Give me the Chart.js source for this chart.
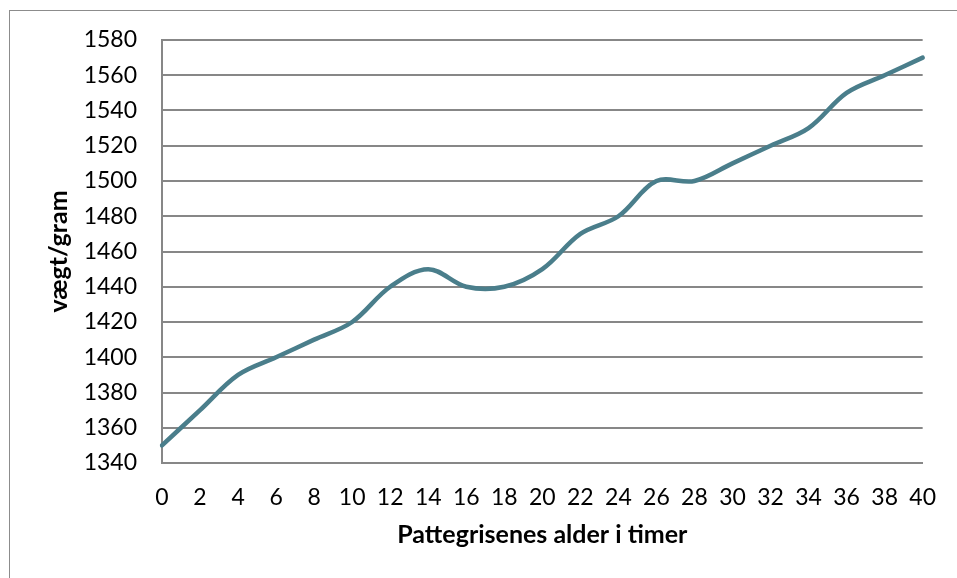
<!DOCTYPE html>
<html>
<head>
<meta charset="utf-8">
<script src="https://cdn.jsdelivr.net/npm/chart.js@4/dist/chart.umd.min.js"></script>
<style>
  html, body { margin: 0; padding: 0; background: #ffffff; }
  #wrap { position: relative; width: 957px; height: 578px; overflow: hidden; }
  #frame { position: absolute; left: 9px; top: 10px; width: 1000px; height: 700px;
           border: 1px solid #8c8c8c; box-sizing: border-box; }
  canvas { position: absolute; left: 0; top: 0; }
</style>
</head>
<body>
<div id="wrap">
  <div id="frame"></div>
  <canvas id="c" width="957" height="578"></canvas>
</div>
<script>
// Age of the piglets in hours
const hours = [0, 2, 4, 6, 8, 10, 12, 14, 16, 18, 20, 22, 24, 26, 28, 30, 32, 34, 36, 38, 40];
// Weight in grams
const weight = [1350, 1370, 1390, 1400, 1410, 1420, 1440, 1450, 1440, 1440, 1450,
                1470, 1480, 1500, 1500, 1510, 1520, 1530, 1550, 1560, 1570];
const yMin = 1340, yMax = 1580, yStep = 20;
const xTitle = 'Pattegrisenes alder i timer';
const yTitle = 'vægt/gram';

const gridColor = '#878787';
const fontFamily = 'Lato, "Open Sans", sans-serif';

new Chart(document.getElementById('c'), {
  type: 'line',
  data: {
    labels: hours.map(String),
    datasets: [{
      data: weight,
      borderColor: '#4a7e8b',
      borderWidth: 4.5,
      pointRadius: 0,
      tension: 0.35,
      fill: false,
      borderCapStyle: 'round'
    }]
  },
  options: {
    responsive: false,
    animation: false,
    layout: { padding: { left: 44, top: 40, right: 30, bottom: 24 } },
    plugins: { legend: { display: false }, tooltip: { enabled: false } },
    scales: {
      x: {
        offset: false,
        grid: { display: false, drawTicks: false },
        border: { display: true, color: gridColor, width: 2 },
        ticks: { color: '#000', font: { family: fontFamily, size: 23 }, padding: 21, maxRotation: 0, autoSkip: false },
        title: { display: true, text: xTitle, color: '#000',
                 font: { family: fontFamily, size: 25, weight: 'bold' }, padding: { top: 6 } },
        afterFit: (s) => { s.height = 91; }
      },
      y: {
        min: yMin, max: yMax,
        grid: { color: gridColor, lineWidth: 2, drawTicks: false },
        border: { display: true, color: gridColor, width: 2 },
        ticks: { stepSize: yStep, color: '#000', font: { family: fontFamily, size: 23 }, padding: 25,
                 callback: (v) => String(v) },
        title: { display: true, text: yTitle, color: '#000',
                 font: { family: fontFamily, size: 25, weight: 'bold' }, padding: 0 },
        afterFit: (s) => { s.width = 118; }
      }
    }
  }
});
</script>
</body>
</html>
